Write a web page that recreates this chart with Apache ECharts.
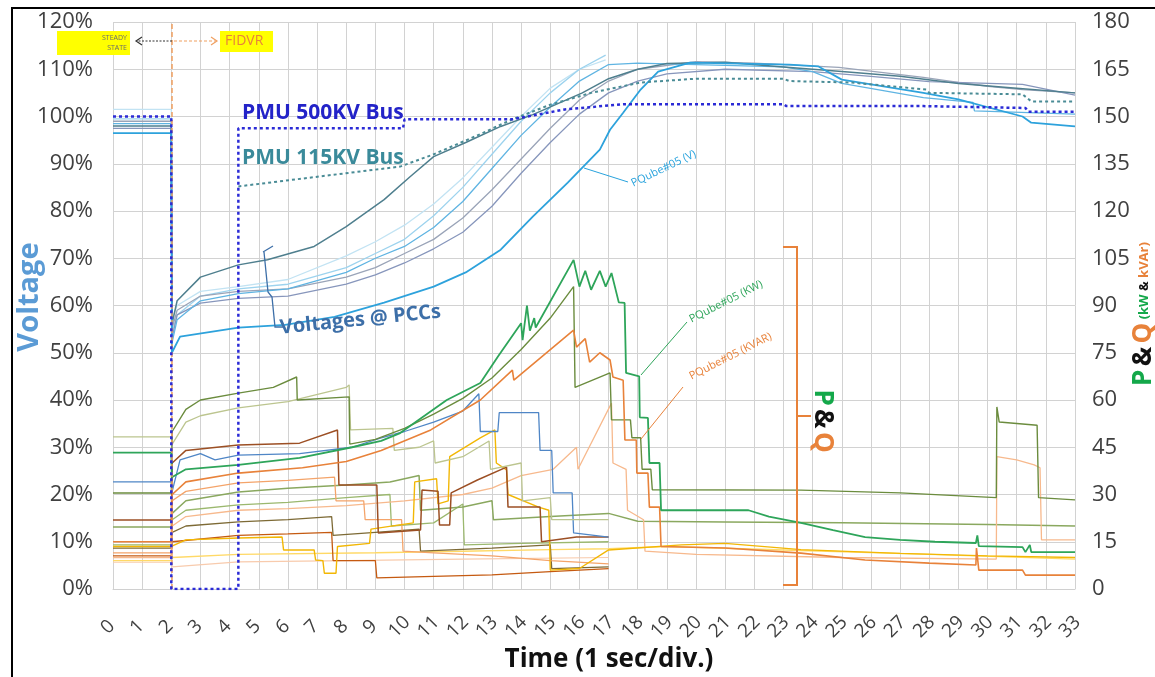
<!DOCTYPE html>
<html><head><meta charset="utf-8">
<script src="https://cdn.jsdelivr.net/npm/echarts@6/dist/echarts.min.js"></script>
<style>html,body{margin:0;padding:0;background:#fff}#c{width:1155px;height:677px}</style>
</head><body><div id="c"></div>
<script>
// ---------- tick labels ----------
const timeTicks = Array.from({length:34},(_, i)=>i);
// ---------- Voltage series (% , left axis) ----------
const vPMU500 = [[0,100],[2,100],[2,0],[4.3,0],[4.3,97.5],[9.95,97.5],[10,99.4],[13.7,99.4],[15.5,101.5],[17.5,102.6],[23,102.6],[23.1,102.2],[27.8,102.2],[31.3,101.8],[31.4,101],[33,101]];
const vPMU115 = [[4.3,85.2],[9.85,89.4],[11,92],[12.5,96],[13.7,99.4],[15,102.5],[16.4,105],[18.1,107.2],[20,108],[23,108],[23.2,107.5],[25.3,107.2],[27.9,105.7],[28,105],[31.2,104.7],[31.5,103.2],[33,103.2]];
const vPQ05 = [[0,96.5],[2,96.5],[2.02,50],[2.3,53.4],[4.3,55.3],[5.9,55.9],[7.6,57.6],[9.3,60.6],[11,64],[12.1,67],[13.3,71.8],[14.4,78.8],[15.6,86],[16.7,93],[17.05,97.2],[17.5,100.8],[18.1,105.7],[18.7,109.5],[19.8,111.4],[23.2,111],[24.2,110.6],[25,107.8],[27.8,105],[29,103.6],[31.2,100],[31.5,98.7],[33,97.9]];
const vPCCa = [[0,98],[2,98],[2.02,56],[2.2,61],[3,66],[4.3,68.6],[5.3,69.7],[6.9,72.5],[8,76.7],[9.3,82.4],[10.2,87.3],[11,91.5],[12.1,94.5],[13.3,97.9],[14.4,100.4],[16.1,105],[17,108],[18,110],[19,111.2],[21,111.5],[23,110.5],[25,109.5],[27,108.5],[29,107],[31,106],[33,105]];
const vPCCb = [[0,99.5],[2,99.5],[2.02,54],[2.2,58],[3,62],[4.3,63.5],[6,64.5],[8,68],[9,71],[10,74],[11,79],[12,85],[13,92],[14,99],[15,105],[16,110],[16.9,113]];
const vPCCc = [[0,98.5],[2,98.5],[2.02,52],[2.2,57],[3,61],[4.3,62.5],[6,63.5],[8,67],[9,70],[10,72.5],[11,76.5],[12,82],[13,89],[14,96],[15,102],[16,107.5],[17,111],[18,111.3],[20,111],[23,110.5],[24,109.5],[25,107],[27.8,104],[29.5,103],[29.55,101.2],[33,100.5]];
const vPCCd = [[0,101.5],[2,101.5],[2.02,57],[2.2,60],[3,63],[4.3,64],[6,65.5],[8,70.5],[9,73.5],[10,77],[11,81.5],[12,87],[13,93.5],[14,100],[15,106],[16,110],[16.9,112]];
const vPCCe = [[0,99],[2,99],[2.02,55],[2.2,59],[3,62],[4.3,63],[6,63.5],[8,66],[9,68],[10,71],[11,74],[12,78.5],[13,84.5],[14,91],[15,97.5],[16,103.5],[17,107.5],[18,110],[20,111.6],[22,111.3],[24.9,110.4],[27.8,108.3],[29,107.2],[30,106.4],[31.2,105.7],[33,105]];
const vPCCf = [[0,97.5],[2,97.5],[2.02,53],[2.2,58],[3,60.5],[4.3,61.5],[6,62],[8,64.5],[9,66.5],[10,69],[11,72],[12,75.5],[13,81],[14,88],[15,94.5],[16,100.5],[17,105],[18,107.5],[19,109],[21,110],[24,109.5],[26,108.5],[28,107.4],[31.2,106.8],[33,104.5]];
// ---------- P & Q series (kW / kVAR, right axis) ----------
const pqKW05 = [[0,43.3],[2,43.3],[2.02,35.5],[2.5,38],[4.3,39.4],[6.4,41.6],[8.2,45],[9.2,47],[9.85,49.5],[11.45,60],[12.6,65.4],[13.2,73.7],[14,84.4],[14.05,79],[14.2,90],[14.3,82],[14.45,86],[14.5,83],[15.8,104.5],[16,96],[16.2,101],[16.4,95],[16.7,101],[16.9,96],[17.1,100.3],[17.35,91],[17.55,90.8],[17.6,68.6],[18.05,67.5],[18.07,54.5],[18.35,54.3],[18.4,40],[18.75,40],[18.8,25],[21.8,25],[22.5,23],[23.6,21],[24.7,18.7],[25.8,16.5],[27,15.6],[28.2,15],[29.6,14.6],[29.65,17],[29.7,13.6],[31.2,13.3],[31.3,11.7],[31.45,14],[31.5,11.7],[33,11.7]];
const pqKVAR05 = [[0,15],[2,15],[2.03,30],[2.5,34],[4.3,36.8],[6.5,38.5],[8,40.5],[9.2,44],[10.9,50.5],[12.6,60],[13.7,69.5],[13.75,66.3],[15.8,82.2],[15.9,76.8],[16.2,79.5],[16.35,72],[16.7,75],[17.05,72.7],[17.15,67.3],[17.5,66.3],[17.56,47.3],[17.95,47.3],[17.97,36.8],[18.35,36.8],[18.4,26],[18.75,26],[18.8,13.5],[21,13],[23.6,11.4],[25.8,9.2],[28,8.2],[29.6,7.6],[29.62,13],[29.7,6],[31.2,6],[31.3,4.4],[33,4.4]];
const pqOlive1 = [[0,30.5],[2,30.5],[2.03,50],[2.5,57],[3,60],[4.3,62.2],[5.5,64],[6.3,67.3],[6.32,60],[8.1,61],[8.12,46],[9,47.5],[10,51],[11,55.5],[12,60.5],[13,67],[14,76],[15,86],[15.8,96],[15.85,64],[17.05,68.6],[17.1,53.7],[17.75,53.7],[17.8,48],[18.1,48],[18.15,38],[18.45,38],[18.5,31.5],[23.6,31.4],[27,30.5],[30.3,29],[30.32,57.8],[30.4,53],[31.7,52],[31.75,29],[33,28.3]];
const pqLOlive = [[0,48.3],[2,48.3],[2.03,46],[2.5,53],[3,55],[4.3,57.5],[6,59.5],[8,64],[8.1,64.8],[8.15,50.5],[9.6,51],[9.65,44],[10.5,45],[11,47],[11.05,40],[12,42],[12.9,47],[12.95,38],[14,40],[14.05,28],[15,29],[15.05,22],[17,22]];
const pqBlue = [[0,34],[2,34],[2.03,31],[2.3,41],[3,43],[3.5,41],[4.3,42.5],[6.4,43],[8.2,45],[9.2,48],[10,50],[11,53],[12,56.5],[12.55,62],[12.6,50],[13.2,50],[13.25,56],[14.6,56],[14.65,44],[15.05,44],[15.1,30.5],[15.75,30.5],[15.8,17.8],[17,16.5]];
const pqBrown = [[0,21.9],[2,21.9],[2.03,40],[2.5,44],[4.3,45.7],[6.4,46.3],[7.7,50.5],[7.75,33],[9.05,33],[9.1,17.8],[10.55,18.7],[10.6,31.4],[11.15,31],[11.2,20.3],[11.55,20.3],[11.6,30.5],[12.5,34.6],[13.5,38.7],[13.55,26],[14.65,26],[14.7,15],[15.9,16.5],[17,16.5]];
const pqOrangeL = [[0,11.5],[2,11.5],[2.03,28],[2.5,31],[4.3,33.7],[6,34.5],[7.6,35.5],[7.65,28],[8.6,28],[8.65,22],[9.9,22],[9.95,12],[11,11.5],[13,10.5],[15,9],[17,8]];
const pqOliveG = [[0,19.7],[2,19.7],[2.03,24],[2.5,28],[4.3,30.8],[6,32],[8,33],[9.5,34],[10.5,36],[10.55,25],[12,26],[13,28],[13.05,22],[15,23],[17,24],[18,21.5],[21,21.3],[25,21],[30,20.5],[33,20]];
const pqOliveG2 = [[0,14],[2,14],[2.03,22],[2.5,25],[4.3,26.7],[6,27.5],[8,29],[9.5,30],[9.55,20],[11,21],[12,27],[12.05,14],[14,14.5],[17,15]];
const pqPeach = [[0,10],[2,10],[2.03,20],[2.5,23],[4.3,25],[6,25.5],[8,26.5],[10,28],[12,30],[13,32],[14,36],[15.1,38],[15.9,45],[15.95,38],[17.1,59],[17.15,40],[17.6,38],[17.65,25],[18.2,22],[18.25,12],[20,11],[25,10],[30.3,9.5],[30.32,42],[31,41],[31.6,39.4],[31.8,38.5],[31.85,15.6],[33,15.6]];
const pqDarkOlive = [[0,13],[2,13],[2.03,18],[2.5,20],[4.3,21.3],[6,22],[7.5,23],[7.55,17],[9,18],[10.5,19],[10.55,12],[13,13],[15,14],[15.05,6.5],[17,7]];
const pqYellow = [[0,13.5],[2,13.5],[2.03,14],[2.5,15.6],[4.3,16.2],[5.8,16.5],[5.85,12.4],[6.9,12.4],[6.95,9.2],[7.2,9],[7.25,5],[7.65,5],[7.7,13.5],[8.8,14.5],[8.85,19],[10.3,21],[10.35,34],[11.1,35],[11.15,27],[11.5,28],[11.55,42],[12.6,48],[13.1,50.5],[13.15,40],[13.5,37.8],[13.55,30],[14.6,26],[14.95,25],[15,6],[16,6.5],[17,12.4],[19.5,14],[21,14.5],[23.6,12.5],[27,11.3],[30,10.5],[33,10]];
const pqLYellow = [[0,9],[2,9],[2.03,10],[4.3,11],[9,11.5],[12,12],[15,12.5],[17,12.8],[19,13.5],[23.6,12.2],[28,11],[33,9.5]];
const pqLPeach = [[0,8.5],[2,8.5],[2.03,7],[4.3,8.6],[8,9],[12,9.5],[17,10]];
const pqBrown2 = [[0,10.5],[2,10.5],[2.03,15],[4.3,17],[6,17.5],[7.5,18],[7.55,9],[9,9],[9.05,3.5],[11,4],[13,4.5],[15,5.5],[17,6.5]];

const chart = echarts.init(document.getElementById('c'), null, {renderer:'canvas'});
const FONT = '"Open Sans", sans-serif';

function ln(name, data, color, width, yIdx, dash, z){
  return {name, type:'line', data, yAxisIndex:yIdx, showSymbol:false, symbol:'none', animation:false,
    lineStyle:{color, width, type:dash||'solid'}, z: z||2, silent:true};
}

const series = [
  ln('pqLPeach', pqLPeach, '#f8cbad', 1.2, 1),
  ln('pqLYellow', pqLYellow, '#ffd966', 1.4, 1),
  ln('pqBrown2', pqBrown2, '#c55a11', 1.3, 1),
  ln('pqDarkOlive', pqDarkOlive, '#7d6a35', 1.3, 1),
  ln('pqOliveG2', pqOliveG2, '#9bb86e', 1.3, 1),
  ln('pqOliveG', pqOliveG, '#8aa85f', 1.5, 1),
  ln('pqPeach', pqPeach, '#f7b98d', 1.3, 1),
  ln('pqOrangeL', pqOrangeL, '#f4a46a', 1.3, 1),
  ln('pqYellow', pqYellow, '#f2b705', 1.4, 1),
  ln('pqBrown', pqBrown, '#9c4f24', 1.5, 1),
  ln('pqBlue', pqBlue, '#4f86c6', 1.3, 1),
  ln('pqLOlive', pqLOlive, '#bcc58f', 1.3, 1),
  ln('pqOlive1', pqOlive1, '#6b8c3e', 1.4, 1),
  ln('pqKVAR05', pqKVAR05, '#e8823a', 1.6, 1),
  ln('pqKW05', pqKW05, '#2ea55a', 1.8, 1),
  ln('vPCCd', vPCCd, '#c2e3f3', 1.3, 0),
  ln('vPCCb', vPCCb, '#9dd3ee', 1.3, 0),
  ln('vPCCe', vPCCe, '#9aa4b8', 1.3, 0),
  ln('vPCCf', vPCCf, '#8796bc', 1.3, 0),
  ln('vPCCc', vPCCc, '#5fb4e2', 1.3, 0),
  ln('vPCCa', vPCCa, '#4f7f8e', 1.5, 0),
  ln('vPQ05', vPQ05, '#2da2dc', 1.8, 0),
  ln('vPMU115', vPMU115, '#4a8c96', 2, 0, [3,3], 5),
  Object.assign(ln('vPMU500', vPMU500, '#2b2bd6', 2.5, 0, [3,3], 6), {
    markLine:{symbol:'none', silent:true, animation:false, label:{show:false},
      lineStyle:{color:'#f0a060', type:[5,3], width:1.5}, data:[{xAxis:2}]}
  })
];

const T = (x,y,text,fill,font,extra)=>({type:'text', x, y, z:100, rotation:(extra&&extra.rotation)||0,
  style:Object.assign({text, fill, font, textAlign:'left', textVerticalAlign:'middle'}, (extra&&extra.style)||{})});
const L = (pts,color,w,dash)=>({type:'polyline', z:100, shape:{points:pts}, style:{stroke:color, lineWidth:w, fill:null, lineDash:dash||null}});

const graphic = [
  L([[12,677],[12,8],[1155,8]], '#000', 2),
  {type:'rect', z:100, shape:{x:57,y:31,width:73,height:24}, style:{fill:'#ffff00'}},
  T(127,43,'STEADY\nSTATE','#6b6b6b','7px '+FONT,{style:{textAlign:'right', lineHeight:10}}),
  {type:'rect', z:100, shape:{x:220,y:31,width:53,height:21}, style:{fill:'#ffff00'}},
  T(225,41,'FIDVR','#e8823a','14px '+FONT),
  L([[172,41],[137,41]], '#333', 1.2, [2,1.5]),
  L([[142,37],[136,41],[142,45]], '#333', 1.2),
  L([[174,41],[216,41]], '#f0a060', 1.2, [3,2]),
  L([[211,37],[217,41],[211,45]], '#f0a060', 1.2),
  T(242,113,'PMU 500KV Bus','#2323c8','bold 21px '+FONT),
  T(242,158,'PMU 115KV Bus','#3a8a9a','bold 21px '+FONT),
  T(280,328,'Voltages @ PCCs','#3d6fa8','bold 20px '+FONT,{rotation:0.1}),
  L([[263,252],[273,246]], '#3d6fa8', 1.3),
  L([[264,252],[268,292],[272,297],[275,327],[283,327]], '#3d6fa8', 1.3),
  T(632,184,'PQube#05 (V)','#29a3dd','11px '+FONT,{rotation:0.45}),
  L([[628,182],[584,168]], '#29a3dd', 1),
  T(690,320,'PQube#05 (KW)','#2ea55a','11px '+FONT,{rotation:0.47}),
  L([[687,322],[641,375]], '#2ea55a', 1),
  T(690,377,'PQube#05 (KVAR)','#e8823a','11px '+FONT,{rotation:0.47}),
  L([[683,387],[641,439]], '#e8823a', 1),
  L([[783,247],[797,247],[797,585],[783,585]], '#e8823a', 2),
  L([[797,416],[811,416]], '#e8823a', 2),
  {type:'text', x:822, y:421, rotation:-Math.PI/2, z:100, style:{text:'{p|P} {a|&} {q|Q}', textAlign:'center', textVerticalAlign:'middle',
    rich:{p:{fill:'#14a84a', font:'bold 26px '+FONT}, a:{fill:'#111', font:'bold 26px '+FONT}, q:{fill:'#e8823a', font:'bold 26px '+FONT}}}},
  {type:'text', x:30, y:297, rotation:Math.PI/2, z:100, style:{text:'Voltage', fill:'#5b9bd5', font:'bold 29px '+FONT, textAlign:'center', textVerticalAlign:'middle'}},
  {type:'text', x:1144, y:314, rotation:Math.PI/2, z:100, style:{text:'{p|P} {a|&} {q|Q} {g|(kW} {a2|&} {o|kVAr)}', textAlign:'center', textVerticalAlign:'middle',
    rich:{p:{fill:'#14a84a', font:'bold 26px '+FONT}, a:{fill:'#111', font:'bold 26px '+FONT}, q:{fill:'#e8823a', font:'bold 26px '+FONT},
      g:{fill:'#14a84a', font:'bold 13px '+FONT}, a2:{fill:'#111', font:'bold 13px '+FONT}, o:{fill:'#e8823a', font:'bold 13px '+FONT}}}},
  {type:'text', x:609, y:660, z:100, style:{text:'Time (1 sec/div.)', fill:'#111', font:'bold 26px '+FONT, textAlign:'center', textVerticalAlign:'middle'}}
];

chart.setOption({
  animation:false,
  backgroundColor:'#fff',
  grid:{left:113, right:80, top:22, bottom:88, containLabel:false},
  xAxis:{type:'value', min:0, max:33, interval:1,
    axisLine:{show:true, lineStyle:{color:'#d0d0d0'}}, axisTick:{show:false},
    axisLabel:{show:false},
    splitLine:{show:true, lineStyle:{color:'#d2d2d2', width:1}}},
  yAxis:[
    {type:'value', min:0, max:120, interval:10, position:'left',
      axisLine:{show:false}, axisTick:{show:false},
      axisLabel:{formatter:'{value}%', fontSize:22, color:'#404040', fontFamily:FONT, margin:20},
      splitLine:{show:true, lineStyle:{color:'#d2d2d2', width:1}}},
    {type:'value', min:0, max:180, interval:15, position:'right',
      axisLine:{show:false}, axisTick:{show:false},
      axisLabel:{fontSize:22, color:'#404040', fontFamily:FONT, margin:17},
      splitLine:{show:false}}
  ],
  series,
  graphic
});

// rotated time tick labels placed at the axis' own tick positions
const tickLabels = timeTicks.map(v=>{
  const px = chart.convertToPixel({xAxisIndex:0}, v);
  return {type:'text', x:px-5, y:627, rotation:Math.PI/4, z:100,
    style:{text:String(v), fill:'#404040', font:'19px '+FONT, textAlign:'center', textVerticalAlign:'middle'}};
});
chart.setOption({graphic: graphic.concat(tickLabels)});
</script></body></html>
